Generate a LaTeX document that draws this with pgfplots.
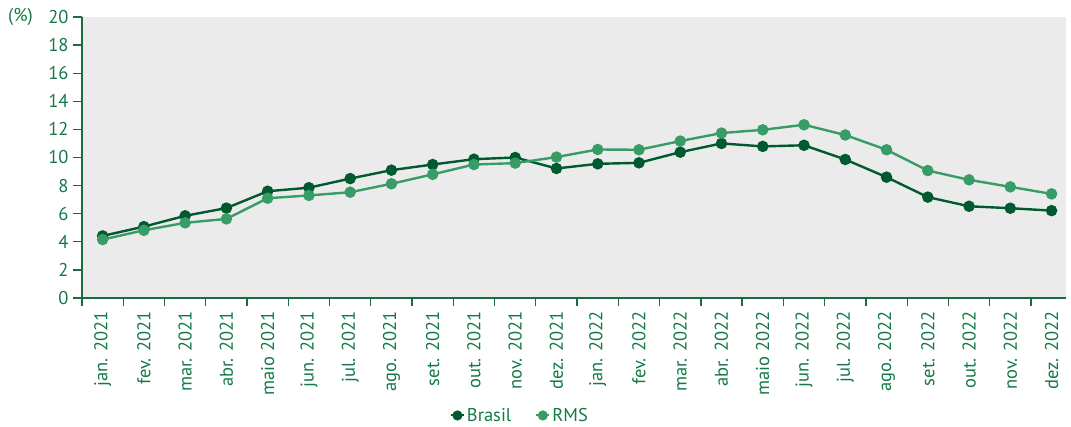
\documentclass[border=0pt]{standalone}
\usepackage{pgfplots}
\pgfplotsset{compat=1.18}
\usepackage{fontspec}
\setmainfont{PT Sans}
\definecolor{dk}{HTML}{00592F}
\definecolor{md}{HTML}{389C67}
\definecolor{tx}{HTML}{137A47}
\definecolor{ax}{HTML}{1B6B42}
\definecolor{bg}{HTML}{EBEBEB}
\newcommand{\lblfont}{\fontsize{18.5}{20}\selectfont}
\begin{document}
\begin{tikzpicture}
\begin{axis}[
  scale only axis, width=984pt, height=281pt,
  xmin=-0.5, xmax=23.35, ymin=0, ymax=20,
  ytick={0,2,...,20},
  axis x line*=bottom, axis y line*=left,
  axis line style={draw=ax, line width=1.3pt},
  axis background/.style={fill=bg},
  xtick={0,...,23},
  xticklabels={jan. 2021, fev. 2021, mar. 2021, abr. 2021, maio 2021, jun. 2021, jul. 2021, ago. 2021, set. 2021, out. 2021, nov. 2021, dez. 2021, jan. 2022, fev. 2022, mar. 2022, abr. 2022, maio 2022, jun. 2022, jul. 2022, ago. 2022, set. 2022, out. 2022, nov. 2022, dez. 2022},
  major x tick style={draw=none},
  minor xtick={-0.5,0.5,...,22.5},
  tick align=outside,
  major tick length=9pt, minor tick length=8pt,
  every tick/.style={draw=ax, line width=1.3pt},
  minor tick style={draw=ax, line width=1.3pt},
  x tick label style={rotate=90, anchor=east, xshift=-1pt},
  y tick label style={xshift=-1pt},
  tick label style={font=\lblfont, text=tx},
  /pgf/number format/assume math mode=true,
  clip=false,
  legend style={at={(0.445,-0.418)}, anchor=center, draw=none, fill=none,
    font=\lblfont, text=tx,
    /tikz/every even column/.append style={column sep=22pt}},
  legend columns=2,
  legend image code/.code={\draw[#1, line width=2pt, mark=none] (0pt,0pt) -- (13pt,0pt); \fill[#1] (6.5pt,0pt) circle (3.8pt);},
]
\addplot[dk, line width=2.4pt, mark=*, mark size=4.5pt, mark options={fill=dk, draw=dk}] coordinates {
(0,4.42) (1,5.08) (2,5.85) (3,6.40) (4,7.60) (5,7.85) (6,8.50) (7,9.10) (8,9.50) (9,9.88) (10,10.0) (11,9.22) (12,9.55) (13,9.62) (14,10.38) (15,11.0) (16,10.79) (17,10.87) (18,9.86) (19,8.60) (20,7.18) (21,6.53) (22,6.39) (23,6.22)};
\addlegendentry{Brasil}
\addplot[md, line width=2.4pt, mark=*, mark size=4.5pt, mark options={fill=md, draw=md}] coordinates {
(0,4.16) (1,4.82) (2,5.35) (3,5.63) (4,7.10) (5,7.30) (6,7.53) (7,8.13) (8,8.80) (9,9.50) (10,9.60) (11,10.03) (12,10.57) (13,10.55) (14,11.17) (15,11.74) (16,11.97) (17,12.33) (18,11.60) (19,10.55) (20,9.07) (21,8.41) (22,7.91) (23,7.41)};
\addlegendentry{RMS}
\node[anchor=east, text=tx, font=\lblfont, inner sep=0pt] at (rel axis cs:0,1) [xshift=-49pt] {(\%)};
\end{axis}
\path (current axis.south west) ++(-82pt,-127pt);
\path (current axis.north east) ++(5pt,17pt);
\end{tikzpicture}
\end{document}
